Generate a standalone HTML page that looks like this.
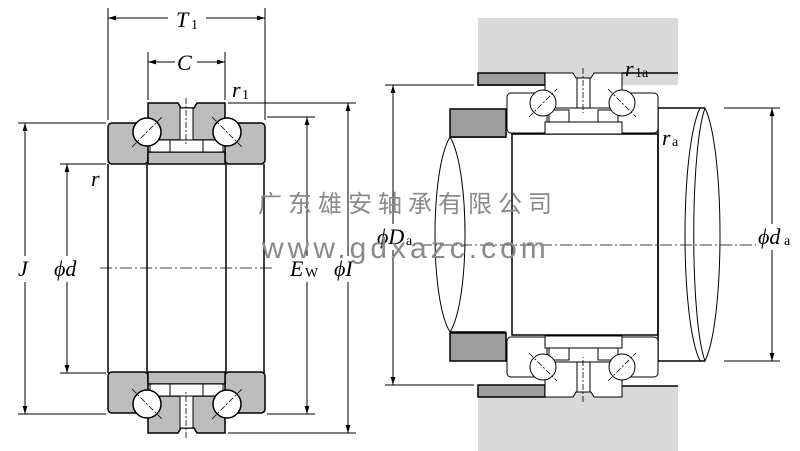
<!DOCTYPE html>
<html><head><meta charset="utf-8"><style>
html,body{margin:0;padding:0;background:#fff}
svg{display:block}
.it{font-family:"Liberation Serif",serif;font-style:italic;font-size:22px}
.sub{font-family:"Liberation Serif",serif;font-size:14px}
</style></head><body>
<svg width="800" height="451" viewBox="0 0 800 451" xmlns="http://www.w3.org/2000/svg">
<defs>
<marker id="ar" viewBox="0 0 10 10" refX="10" refY="5" markerWidth="8" markerHeight="8" orient="auto-start-reverse"><path d="M0,2 L10,5 L0,8z" fill="#000"/></marker>
<g id="LT">
  <rect x="108" y="123" width="40" height="41" rx="4" fill="#bdbdbd" stroke="#000" stroke-width="1.5"/>
  <rect x="225" y="123" width="40" height="41" rx="4" fill="#bdbdbd" stroke="#000" stroke-width="1.5"/>
  <path d="M148,103 H178 L181,108 H194 L197,103 H225 V140 H148 Z" fill="#bdbdbd" stroke="#000" stroke-width="1.5"/>
  <rect x="180" y="108" width="13" height="32" fill="#fff" stroke="#000" stroke-width="1"/>
  <rect x="148" y="152" width="77" height="12" fill="#bdbdbd" stroke="#000" stroke-width="1.5"/>
  <rect x="150" y="140" width="22" height="12" fill="#fff" stroke="#000" stroke-width="1"/>
  <rect x="201" y="140" width="22" height="12" fill="#fff" stroke="#000" stroke-width="1"/>
  <rect x="170" y="140" width="33" height="12" fill="#fff" stroke="#000" stroke-width="1"/>
  <circle cx="147" cy="132" r="14" fill="#fff" stroke="#000" stroke-width="1.5"/>
  <circle cx="227" cy="132" r="14" fill="#fff" stroke="#000" stroke-width="1.5"/>
  <line x1="132" y1="147" x2="162" y2="117" stroke="#000" stroke-width="0.8" stroke-dasharray="6,2,2,2"/>
  <line x1="212" y1="117" x2="242" y2="147" stroke="#000" stroke-width="0.8" stroke-dasharray="6,2,2,2"/>
  <line x1="186" y1="98" x2="186" y2="145" stroke="#000" stroke-width="0.8" stroke-dasharray="6,2,2,2"/>
</g>
<g id="RT">
  <rect x="478" y="73" width="67" height="12" fill="#9e9e9e" stroke="#000" stroke-width="1.5"/>
  <rect x="450" y="109" width="56" height="28" fill="#9e9e9e" stroke="#000" stroke-width="1.5"/>
  <rect x="507" y="93" width="40" height="40" rx="4" fill="#fff" stroke="#000" stroke-width="1"/>
  <rect x="618" y="93" width="40" height="40" rx="4" fill="#fff" stroke="#000" stroke-width="1"/>
  <path d="M545,73 H573 L576,78 H591 L594,73 H622 V108 H545 Z" fill="#fff" stroke="#000" stroke-width="1"/>
  <rect x="577" y="78" width="13" height="30" fill="#fff" stroke="#000" stroke-width="1"/>
  <rect x="545" y="122" width="77" height="12" fill="#fff" stroke="#000" stroke-width="1"/>
  <rect x="549" y="110" width="20" height="12" fill="#fff" stroke="#000" stroke-width="1"/>
  <rect x="598" y="110" width="20" height="12" fill="#fff" stroke="#000" stroke-width="1"/>
  <circle cx="543" cy="103" r="13" fill="#fff" stroke="#000" stroke-width="1"/>
  <circle cx="622" cy="103" r="13" fill="#fff" stroke="#000" stroke-width="1"/>
  <line x1="529" y1="117" x2="557" y2="89" stroke="#000" stroke-width="0.8" stroke-dasharray="6,2,2,2"/>
  <line x1="608" y1="89" x2="636" y2="117" stroke="#000" stroke-width="0.8" stroke-dasharray="6,2,2,2"/>
  <line x1="583" y1="68" x2="583" y2="113" stroke="#000" stroke-width="0.8" stroke-dasharray="6,2,2,2"/>
</g>
</defs>

<!-- LEFT DRAWING -->
<g stroke="#000" stroke-width="1.5" fill="none">
  <line x1="108" y1="164" x2="108" y2="373"/>
  <line x1="147" y1="164" x2="147" y2="373"/>
  <line x1="226" y1="164" x2="226" y2="373"/>
  <line x1="264" y1="164" x2="264" y2="373"/>
</g>
<use href="#LT"/>
<use href="#LT" transform="translate(0,536) scale(1,-1)"/>
<line x1="100" y1="268" x2="272" y2="268" stroke="#000" stroke-width="0.8" stroke-dasharray="12,3,2,3"/>
<g stroke="#000" stroke-width="1" fill="none">
  <line x1="108" y1="8" x2="108" y2="120"/>
  <line x1="265" y1="8" x2="265" y2="120"/>
  <line x1="108" y1="18" x2="265" y2="18" marker-start="url(#ar)" marker-end="url(#ar)"/>
  <line x1="148" y1="52" x2="148" y2="100"/>
  <line x1="225" y1="52" x2="225" y2="100"/>
  <line x1="148" y1="62" x2="225" y2="62" marker-start="url(#ar)" marker-end="url(#ar)"/>
  <line x1="18" y1="123" x2="106" y2="123"/>
  <line x1="18" y1="414" x2="106" y2="414"/>
  <line x1="25" y1="123" x2="25" y2="414" marker-start="url(#ar)" marker-end="url(#ar)"/>
  <line x1="60" y1="164" x2="106" y2="164"/>
  <line x1="60" y1="373" x2="106" y2="373"/>
  <line x1="67" y1="164" x2="67" y2="373" marker-start="url(#ar)" marker-end="url(#ar)"/>
  <line x1="267" y1="117" x2="315" y2="117"/>
  <line x1="267" y1="414" x2="315" y2="414"/>
  <line x1="307" y1="117" x2="307" y2="414" marker-start="url(#ar)" marker-end="url(#ar)"/>
  <line x1="228" y1="103" x2="356" y2="103"/>
  <line x1="228" y1="433" x2="356" y2="433"/>
  <line x1="348" y1="103" x2="348" y2="433" marker-start="url(#ar)" marker-end="url(#ar)"/>
</g>
<rect x="168" y="8" width="38" height="20" fill="#fff"/>
<text x="176" y="27" class="it">T</text><text x="191" y="29" class="sub">1</text>
<rect x="175" y="50" width="22" height="22" fill="#fff"/>
<text x="177" y="70" class="it">C</text>
<text x="232" y="97" class="it">r</text><text x="242" y="99" class="sub">1</text>
<text x="91" y="186" class="it">r</text>
<rect x="14" y="256" width="24" height="26" fill="#fff"/>
<text x="18" y="276" class="it">J</text>
<rect x="52" y="256" width="36" height="26" fill="#fff"/>
<text x="54" y="276" class="it">ϕd</text>
<rect x="287" y="256" width="40" height="26" fill="#fff"/>
<text x="290" y="276" class="it">E</text><text x="305" y="277" class="sub">W</text>
<rect x="333" y="256" width="28" height="26" fill="#fff"/>
<text x="334" y="276" class="it">ϕI</text>

<!-- RIGHT DRAWING -->
<rect x="478" y="18" width="200" height="67" fill="#d9d9d9"/>
<rect x="478" y="386" width="200" height="65" fill="#d9d9d9"/>
<line x1="478" y1="85" x2="545" y2="85" stroke="#000" stroke-width="1.5"/>
<line x1="622" y1="73" x2="678" y2="73" stroke="#000" stroke-width="1.5"/>
<line x1="622" y1="386" x2="678" y2="386" stroke="#000" stroke-width="1.5"/>
<path d="M512,134 H658 V335 H512 Z" fill="#fff" stroke="#000" stroke-width="1.5"/>
<path d="M658,108 H705 M658,361 H705" stroke="#000" stroke-width="1.5" fill="none"/>
<path d="M658,108 V361" stroke="#000" stroke-width="1.5"/>
<path d="M705,108 C725,150 725,320 705,361 C690,320 690,150 705,108" fill="none" stroke="#000" stroke-width="1"/>
<path d="M700,108 C680,150 680,320 700,361" fill="none" stroke="#000" stroke-width="1"/>
<path d="M506,137 H450 M506,332 H450" stroke="#000" stroke-width="1.5"/>
<path d="M450,137 C430,170 430,300 450,332" fill="none" stroke="#000" stroke-width="1"/>
<path d="M450,137 C470,170 470,300 450,332" fill="none" stroke="#000" stroke-width="1"/>
<use href="#RT"/>
<use href="#RT" transform="translate(0,470) scale(1,-1)"/>
<line x1="400" y1="245" x2="790" y2="245" stroke="#000" stroke-width="0.8" stroke-dasharray="12,3,2,3"/>
<g stroke="#000" stroke-width="1">
  <line x1="385" y1="85" x2="474" y2="85"/>
  <line x1="385" y1="385" x2="474" y2="385"/>
  <line x1="393" y1="85" x2="393" y2="385" marker-start="url(#ar)" marker-end="url(#ar)"/>
  <line x1="724" y1="108" x2="780" y2="108"/>
  <line x1="724" y1="361" x2="780" y2="361"/>
  <line x1="772" y1="108" x2="772" y2="361" marker-start="url(#ar)" marker-end="url(#ar)"/>
</g>
<rect x="376" y="224" width="44" height="26" fill="#fff"/>
<text x="377" y="244" class="it">ϕD</text><text x="406" y="245" class="sub">a</text>
<rect x="756" y="224" width="44" height="26" fill="#fff"/>
<text x="758" y="244" class="it">ϕd</text><text x="784" y="245" class="sub">a</text>
<text x="625" y="76" class="it">r</text><text x="635" y="77" class="sub">1a</text>
<text x="662" y="145" class="it">r</text><text x="672" y="146" class="sub">a</text>

<text x="258" y="212" font-family="'Noto Sans CJK SC',sans-serif" font-size="24" fill="#8a8a8a" letter-spacing="6">广东雄安轴承有限公司</text>
<text x="262" y="258" font-family="'Liberation Sans',sans-serif" font-size="30" fill="#8a8a8a" letter-spacing="4">www.gdxazc.com</text>
</svg>
</body></html>
